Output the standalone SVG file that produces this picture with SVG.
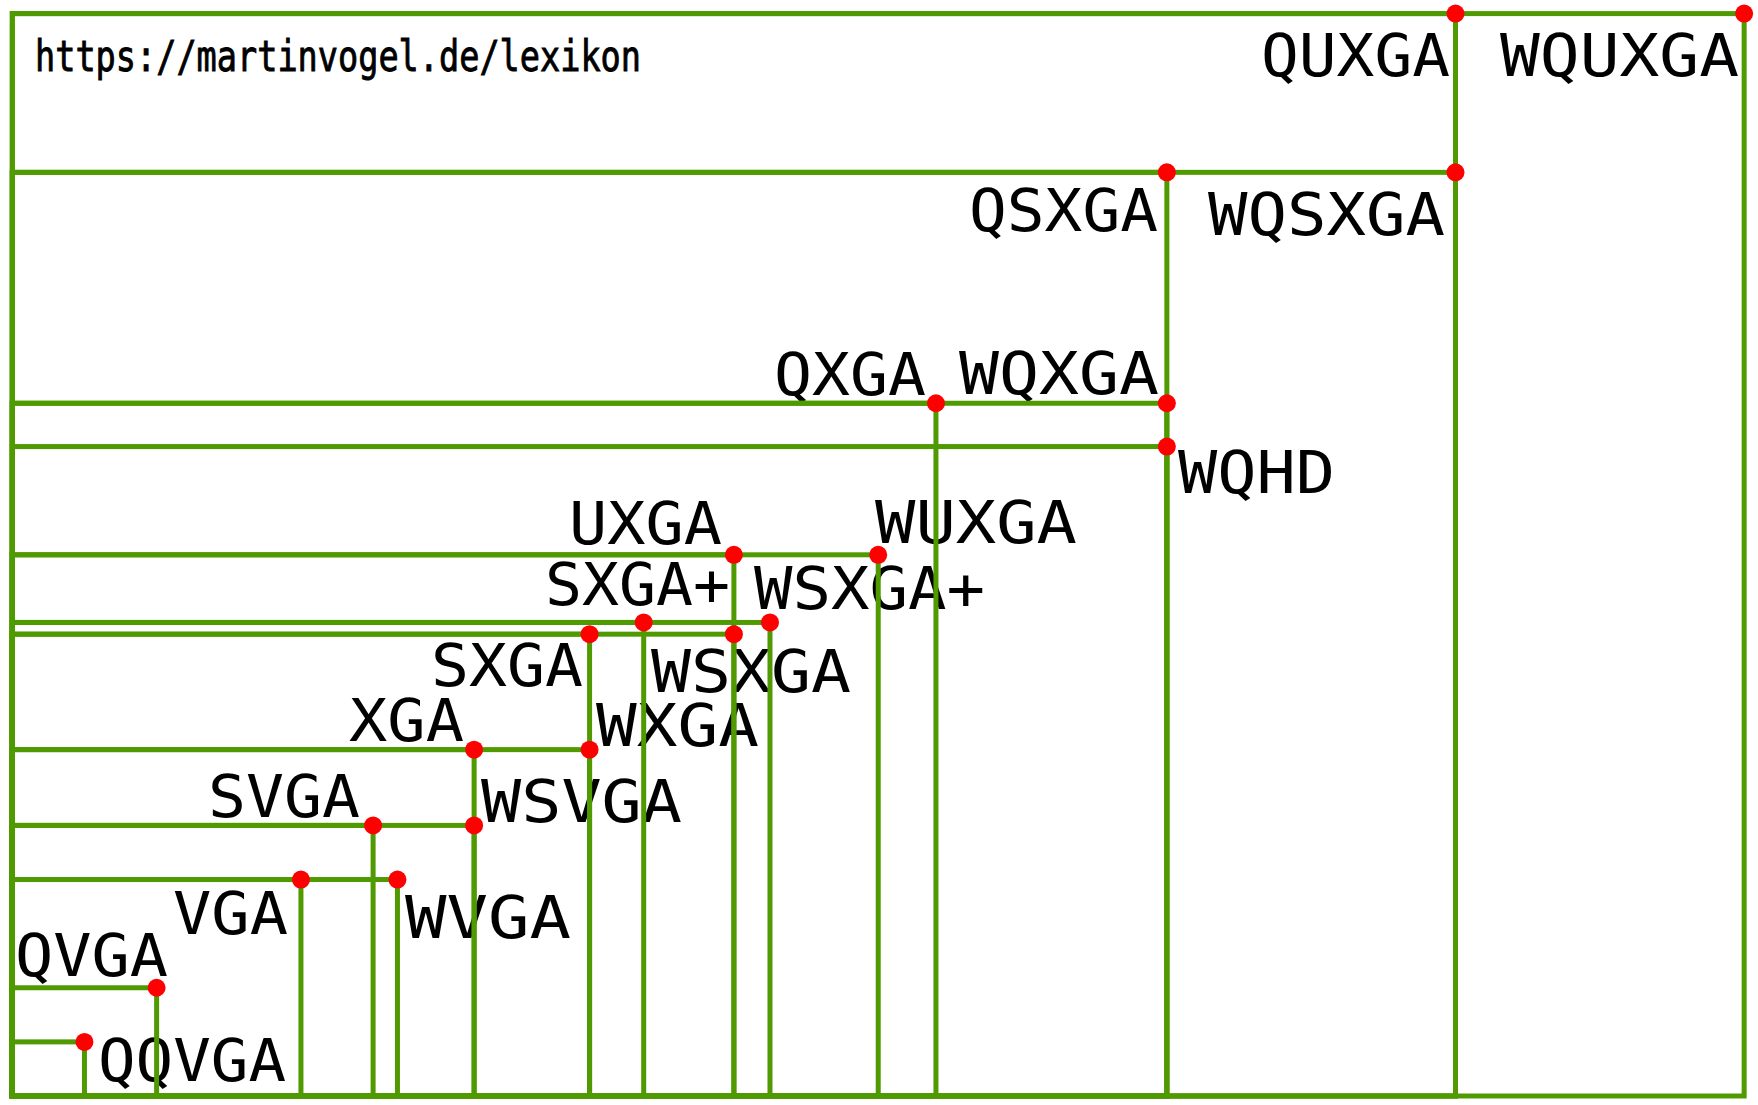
<svg xmlns="http://www.w3.org/2000/svg" width="1758" height="1105" viewBox="0 0 1758 1105">
<style>
.res{fill:none;stroke:#4f9a00;stroke-width:5}
.dot{fill:#ff0000}
.lbl{font-family:"DejaVu Sans Mono","Liberation Mono",monospace;font-size:58px;fill:#000}
.url{font-family:"DejaVu Sans Mono","Liberation Mono",monospace;font-size:42px;fill:#000;stroke:#000;stroke-width:0.9}
</style>
<rect x="0" y="0" width="1758" height="1105" fill="#fff"/>
<text class="url" x="35" y="71" textLength="606" lengthAdjust="spacingAndGlyphs">https://martinvogel.de/lexikon</text>
<g id="node-QQVGA"><text class="lbl" x="98" y="1081" textLength="188" lengthAdjust="spacingAndGlyphs">QQVGA</text><rect class="res" x="12.3" y="1041.88" width="72.16" height="54.12"/></g>
<g id="node-QVGA"><text class="lbl" x="15" y="976" textLength="153" lengthAdjust="spacingAndGlyphs">QVGA</text><rect class="res" x="12.3" y="987.76" width="144.32" height="108.24"/></g>
<g id="node-VGA"><text class="lbl" x="173" y="934" textLength="115" lengthAdjust="spacingAndGlyphs">VGA</text><rect class="res" x="12.3" y="879.52" width="288.64" height="216.48"/></g>
<g id="node-SVGA"><text class="lbl" x="208" y="817" textLength="152" lengthAdjust="spacingAndGlyphs">SVGA</text><rect class="res" x="12.3" y="825.4" width="360.8" height="270.6"/></g>
<g id="node-WVGA"><text class="lbl" x="405" y="938" textLength="166" lengthAdjust="spacingAndGlyphs">WVGA</text><rect class="res" x="12.3" y="879.52" width="385.15" height="216.48"/></g>
<g id="node-WSVGA"><text class="lbl" x="481" y="822" textLength="201" lengthAdjust="spacingAndGlyphs">WSVGA</text><rect class="res" x="12.3" y="825.4" width="461.82" height="270.6"/></g>
<g id="node-XGA"><text class="lbl" x="349" y="741" textLength="115" lengthAdjust="spacingAndGlyphs">XGA</text><rect class="res" x="12.3" y="749.63" width="461.82" height="346.37"/></g>
<g id="node-WXGA"><text class="lbl" x="596" y="746" textLength="163" lengthAdjust="spacingAndGlyphs">WXGA</text><rect class="res" x="12.3" y="749.63" width="577.28" height="346.37"/></g>
<g id="node-SXGA"><text class="lbl" x="431" y="686" textLength="152" lengthAdjust="spacingAndGlyphs">SXGA</text><rect class="res" x="12.3" y="634.18" width="577.28" height="461.82"/></g>
<g id="node-SXGA-plus"><text class="lbl" x="545" y="605" textLength="185" lengthAdjust="spacingAndGlyphs">SXGA+</text><rect class="res" x="12.3" y="622.45" width="631.4" height="473.55"/></g>
<g id="node-WSXGA"><text class="lbl" x="651" y="692" textLength="200" lengthAdjust="spacingAndGlyphs">WSXGA</text><rect class="res" x="12.3" y="634.18" width="721.6" height="461.82"/></g>
<g id="node-UXGA"><text class="lbl" x="569" y="544" textLength="153" lengthAdjust="spacingAndGlyphs">UXGA</text><rect class="res" x="12.3" y="554.8" width="721.6" height="541.2"/></g>
<g id="node-WSXGA-plus"><text class="lbl" x="754" y="609" textLength="231" lengthAdjust="spacingAndGlyphs">WSXGA+</text><rect class="res" x="12.3" y="622.45" width="757.68" height="473.55"/></g>
<g id="node-WUXGA"><text class="lbl" x="875" y="543" textLength="202" lengthAdjust="spacingAndGlyphs">WUXGA</text><rect class="res" x="12.3" y="554.8" width="865.92" height="541.2"/></g>
<g id="node-QXGA"><text class="lbl" x="774" y="395" textLength="152" lengthAdjust="spacingAndGlyphs">QXGA</text><rect class="res" x="12.3" y="403.26" width="923.65" height="692.74"/></g>
<g id="node-WQHD"><text class="lbl" x="1178" y="493" textLength="157" lengthAdjust="spacingAndGlyphs">WQHD</text><rect class="res" x="12.3" y="446.56" width="1154.56" height="649.44"/></g>
<g id="node-WQXGA"><text class="lbl" x="959" y="394" textLength="200" lengthAdjust="spacingAndGlyphs">WQXGA</text><rect class="res" x="12.3" y="403.26" width="1154.56" height="692.74"/></g>
<g id="node-QSXGA"><text class="lbl" x="969" y="231" textLength="189" lengthAdjust="spacingAndGlyphs">QSXGA</text><rect class="res" x="12.3" y="172.35" width="1154.56" height="923.65"/></g>
<g id="node-WQSXGA"><text class="lbl" x="1208" y="235" textLength="237" lengthAdjust="spacingAndGlyphs">WQSXGA</text><rect class="res" x="12.3" y="172.35" width="1443.2" height="923.65"/></g>
<g id="node-QUXGA"><text class="lbl" x="1261" y="76" textLength="189" lengthAdjust="spacingAndGlyphs">QUXGA</text><rect class="res" x="12.3" y="13.6" width="1443.2" height="1082.4"/></g>
<g id="node-WQUXGA"><text class="lbl" x="1500" y="76" textLength="239" lengthAdjust="spacingAndGlyphs">WQUXGA</text><rect class="res" x="12.3" y="13.6" width="1731.84" height="1082.4"/></g>
<g id="corners">
<circle class="dot" cx="84.46" cy="1041.88" r="9"/>
<circle class="dot" cx="156.62" cy="987.76" r="9"/>
<circle class="dot" cx="300.94" cy="879.52" r="9"/>
<circle class="dot" cx="373.1" cy="825.4" r="9"/>
<circle class="dot" cx="397.45" cy="879.52" r="9"/>
<circle class="dot" cx="474.12" cy="825.4" r="9"/>
<circle class="dot" cx="474.12" cy="749.63" r="9"/>
<circle class="dot" cx="589.58" cy="749.63" r="9"/>
<circle class="dot" cx="589.58" cy="634.18" r="9"/>
<circle class="dot" cx="643.7" cy="622.45" r="9"/>
<circle class="dot" cx="733.9" cy="634.18" r="9"/>
<circle class="dot" cx="733.9" cy="554.8" r="9"/>
<circle class="dot" cx="769.98" cy="622.45" r="9"/>
<circle class="dot" cx="878.22" cy="554.8" r="9"/>
<circle class="dot" cx="935.95" cy="403.26" r="9"/>
<circle class="dot" cx="1166.86" cy="446.56" r="9"/>
<circle class="dot" cx="1166.86" cy="403.26" r="9"/>
<circle class="dot" cx="1166.86" cy="172.35" r="9"/>
<circle class="dot" cx="1455.5" cy="172.35" r="9"/>
<circle class="dot" cx="1455.5" cy="13.6" r="9"/>
<circle class="dot" cx="1744.14" cy="13.6" r="9"/>
</g>
</svg>
